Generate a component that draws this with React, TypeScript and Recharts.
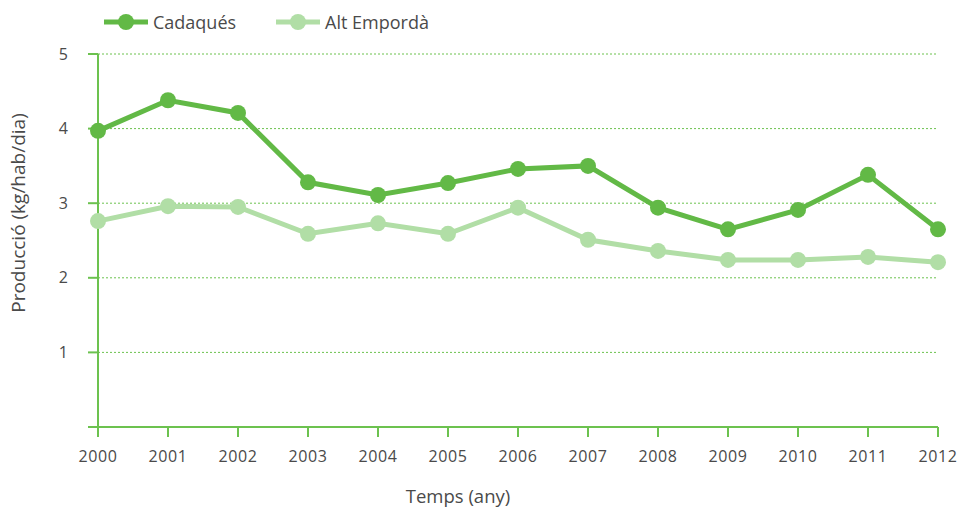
import React from "react";
import { LineChart, Line, XAxis, YAxis, CartesianGrid } from "recharts";

const years = ["2000","2001","2002","2003","2004","2005","2006","2007","2008","2009","2010","2011","2012"];
const cadaques = [3.97, 4.38, 4.21, 3.28, 3.11, 3.27, 3.46, 3.5, 2.94, 2.65, 2.91, 3.38, 2.65];
const altEmporda = [2.76, 2.96, 2.95, 2.59, 2.73, 2.59, 2.94, 2.51, 2.36, 2.24, 2.24, 2.28, 2.21];
const yTicks = [0, 1, 2, 3, 4, 5];

const data = years.map((y, i) => ({ year: y, cadaques: cadaques[i], alt: altEmporda[i] }));

const DARK = "#62b946";
const LIGHT = "#b1dea6";
const AXIS = "#6cc24f";
const FONT = "'Open Sans', sans-serif";
const TXT = "#4a4a4a";

const legendItems = [
  { name: "Cadaqués", color: DARK },
  { name: "Alt Empordà", color: LIGHT },
];

const LegendBox = () => (
  <div style={{ position: "absolute", left: 104, top: 11, display: "flex", fontFamily: FONT, fontSize: 18, color: TXT, lineHeight: "22px" }}>
    {legendItems.map((it, i) => (
      <div key={i} style={{ display: "flex", alignItems: "center", marginRight: i === 0 ? 40 : 0 }}>
        <svg width={44} height={20} style={{ marginRight: 5 }}>
          <line x1={0} y1={10} x2={44} y2={10} stroke={it.color} strokeWidth={5} />
          <circle cx={22} cy={10} r={8} fill={it.color} />
        </svg>
        <span>{it.name}</span>
      </div>
    ))}
  </div>
);

const YLabel = () => (
  <text x={18} y={213} transform="rotate(-90 18 213)" textAnchor="middle" dominantBaseline="central" fill={TXT} fontSize={19} fontFamily={FONT}>
    Producció (kg/hab/dia)
  </text>
);

const XLabel = () => (
  <text x={458} y={495} textAnchor="middle" dominantBaseline="central" fill={TXT} fontSize={18.5} fontFamily={FONT}>
    Temps (any)
  </text>
);

export default function App() {
  return (
    <div style={{ position: "absolute", left: 0, top: 0, width: 958, height: 508, background: "#fff" }}>
      <LineChart width={958} height={508} data={data} margin={{ top: 54, right: 20, left: 0, bottom: 0 }}>
        <CartesianGrid horizontal vertical={false} stroke={AXIS} strokeDasharray="2 2" strokeWidth={1} />
        <XAxis
          dataKey="year"
          height={81}
          stroke={AXIS}
          strokeWidth={2}
          tickSize={10}
          tickMargin={14}
          tick={{ fill: TXT, fontSize: 16, fontFamily: FONT, letterSpacing: 0.6 }}
          tickLine={{ stroke: AXIS, strokeWidth: 2 }}
          interval={0}
          label={<XLabel />}
        />
        <YAxis
          width={98}
          domain={[0, 5]}
          ticks={yTicks}
          interval={0}
          stroke={AXIS}
          strokeWidth={2}
          tickSize={10}
          tickMargin={20}
          tickFormatter={(v: number) => (v === 0 ? " " : String(v))}
          tick={{ fill: TXT, fontSize: 16, fontFamily: FONT }}
          tickLine={{ stroke: AXIS, strokeWidth: 2 }}
          label={<YLabel />}
        />
        <Line type="linear" dataKey="alt" name="Alt Empordà" stroke={LIGHT} strokeWidth={5} dot={{ r: 8, fill: LIGHT, stroke: "none" }} activeDot={false} isAnimationActive={false} />
        <Line type="linear" dataKey="cadaques" name="Cadaqués" stroke={DARK} strokeWidth={5} dot={{ r: 8, fill: DARK, stroke: "none" }} activeDot={false} isAnimationActive={false} />
      </LineChart>
      <LegendBox />
    </div>
  );
}
